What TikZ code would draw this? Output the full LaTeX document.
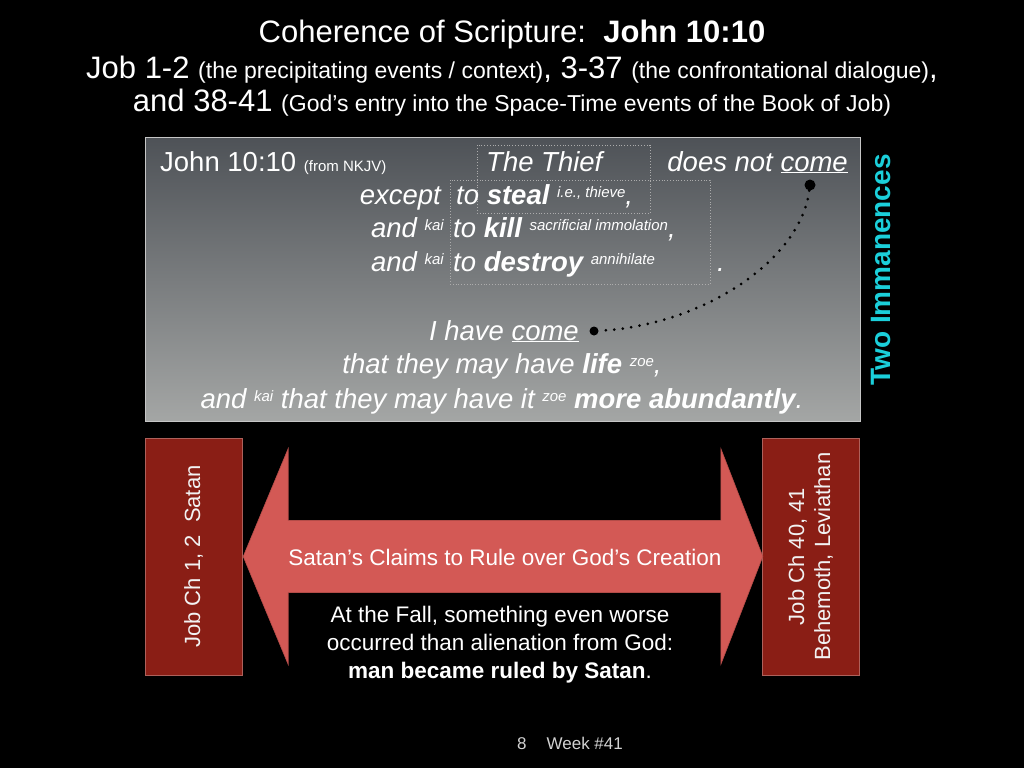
\documentclass[tikz,border=0pt]{standalone}
\usepackage{fontspec}
\setmainfont{Liberation Sans}
\usepackage{xcolor}
\usepackage{tikz}
\usetikzlibrary{calc}
\usetikzlibrary{shapes,arrows,positioning}
\definecolor{slide-cyan}{HTML}{1BCFDA}
\definecolor{verse-top}{HTML}{4E5257}
\definecolor{verse-bottom}{HTML}{A4A6A5}
\definecolor{job-red}{HTML}{8A1E15}
\definecolor{claim-red}{HTML}{D35955}
\newcommand{\fsz}[1]{\fontsize{#1}{#1}\selectfont}
\newcommand{\supnote}[1]{\ \raisebox{7pt}{\fsz{15}#1}}
\tikzset{title-text/.style={text=white, inner sep=0pt, font=\fsz{31}}}
\tikzset{verse-text/.style={text=white, inner sep=0pt, font=\fsz{27.5}\itshape}}
\tikzset{verse-box/.style={draw=gray!45, line width=1pt, top color=verse-top, bottom color=verse-bottom, minimum width=715pt, minimum height=284pt}}
\tikzset{dot-frame/.style={draw=gray!65, line width=0.8pt, dash pattern=on 0.8pt off 2pt, inner sep=0pt}}
\tikzset{end-dot/.style={circle, fill=black, inner sep=0pt, minimum size=9pt}}
\tikzset{job-box/.style={draw=job-red!70!white, fill=job-red, minimum width=97pt, minimum height=237pt}}
\tikzset{job-label/.style={rotate=90, text=white!90!gray, font=\fontsize{22}{26}\selectfont, align=center}}
\tikzset{claim-text/.style={text=white, font=\fontsize{22.5}{28}\selectfont}}

\begin{document}
\begin{tikzpicture}[x=1pt, y=-1pt]
            \fill[black] (0,0) rectangle (1024,768);
            \useasboundingbox (0,0) rectangle (1024,768);

            % heading
            \node[title-text, anchor=base] (title) at (512,42) {Coherence of Scripture:\ \ \textbf{John 10:10}};
            \node[title-text, anchor=base] (job-line) at (512,78) {Job 1-2 {\fsz{23}(the precipitating events / context)}, 3-37 {\fsz{23}(the confrontational dialogue)},};
            \node[title-text, anchor=base] (entry-line) at (512,111) {and 38-41 {\fsz{23}(God's entry into the Space-Time events of the Book of Job)}};

            % the verse
            \node[verse-box] (verse) at (502.5,279) {};
            \node[dot-frame, minimum width=173pt, minimum height=68pt] (thief-frame) at (563.5,179) {};
            \node[dot-frame, minimum width=260pt, minimum height=104pt] (verb-frame) at (580,232) {};

            \node[verse-text, anchor=base west] (reference) at (160,171) {\upshape John 10:10 {\fsz{15}(from NKJV)}};
            \node[verse-text, anchor=base west] (thief) at (486,171) {The Thief};
            \node[verse-text, anchor=base east] (not-come) at (848,171) {does not \underline{come}};
            \node[verse-text, anchor=base east] (except) at (441,204) {except};
            \node[verse-text, anchor=base west] (steal) at (456,204) {to \textbf{steal}\supnote{i.e., thieve},};
            \node[verse-text, anchor=base east] (kai-kill) at (444,237) {and\supnote{kai}};
            \node[verse-text, anchor=base west] (kill) at (453,237) {to \textbf{kill}\supnote{sacrificial immolation},};
            \node[verse-text, anchor=base east] (kai-destroy) at (444,271) {and\supnote{kai}};
            \node[verse-text, anchor=base west] (destroy) at (453,271) {to \textbf{destroy}\supnote{annihilate}};
            \node[verse-text, anchor=base] (full-stop) at (721,271) {.};
            \node[verse-text, anchor=base east] (have-come) at (579,340) {I have \underline{come}};
            \node[verse-text, anchor=base] (life) at (502,373) {that they may have \textbf{life}\supnote{zoe},};
            \node[verse-text, anchor=base] (abundant) at (502,408) {and\supnote{kai} that they may have it\supnote{zoe} \textbf{more abundantly}.};

            \node[end-dot, minimum size=11pt] (come-dot) at (810,185) {};
            \node[end-dot] (came-dot) at (594,331) {};
            \draw[line width=3pt, line cap=round, dash pattern=on 0pt off 8.5pt]
                (come-dot) .. controls (800,262) and (700,326) .. (came-dot);

            \node[rotate=90, text=slide-cyan, font=\fsz{28}\bfseries] (immanence) at (881,270) {Two Immanences};

            % Job boxes and the claim arrow
            \node[job-box] (satan-box) at (193.5,556.5) {};
            \node[job-label] (satan-label) at (satan-box.center) {Job Ch 1, 2\ \ Satan};
            \node[job-box] (beast-box) at (810.5,556.5) {};
            \node[job-label] (beast-label) at (beast-box.center) {Job Ch 40, 41\\Behemoth, Leviathan};

            \coordinate (claim-left) at ($(satan-box.east)+(1,0)$);
            \coordinate (claim-right) at ($(beast-box.west)+(1,0)$);
            \filldraw[fill=claim-red, draw=claim-red!85!black, line width=0.6pt]
                (claim-left) -- ++(45,-108) -- ++(0,72) -- ($(claim-right)+(-42,-36)$) -- ++(0,-72)
                -- (claim-right) -- ++(-42,108) -- ++(0,-72) -- ($(claim-left)+(45,36)$) -- ++(0,72) -- cycle;
            \node[claim-text] (claim) at (505,557) {Satan's Claims to Rule over God's Creation};
            \node[claim-text, align=center, anchor=north] (fall-note) at (500,603)
                {At the Fall, something even worse\\occurred than alienation from God:\\\textbf{man became ruled by Satan}.};

            \node[text=gray!35, font=\fsz{17}] (page-no) at (570,743) {8\hspace{20pt}Week \#41};
        \end{tikzpicture}
\end{document}
